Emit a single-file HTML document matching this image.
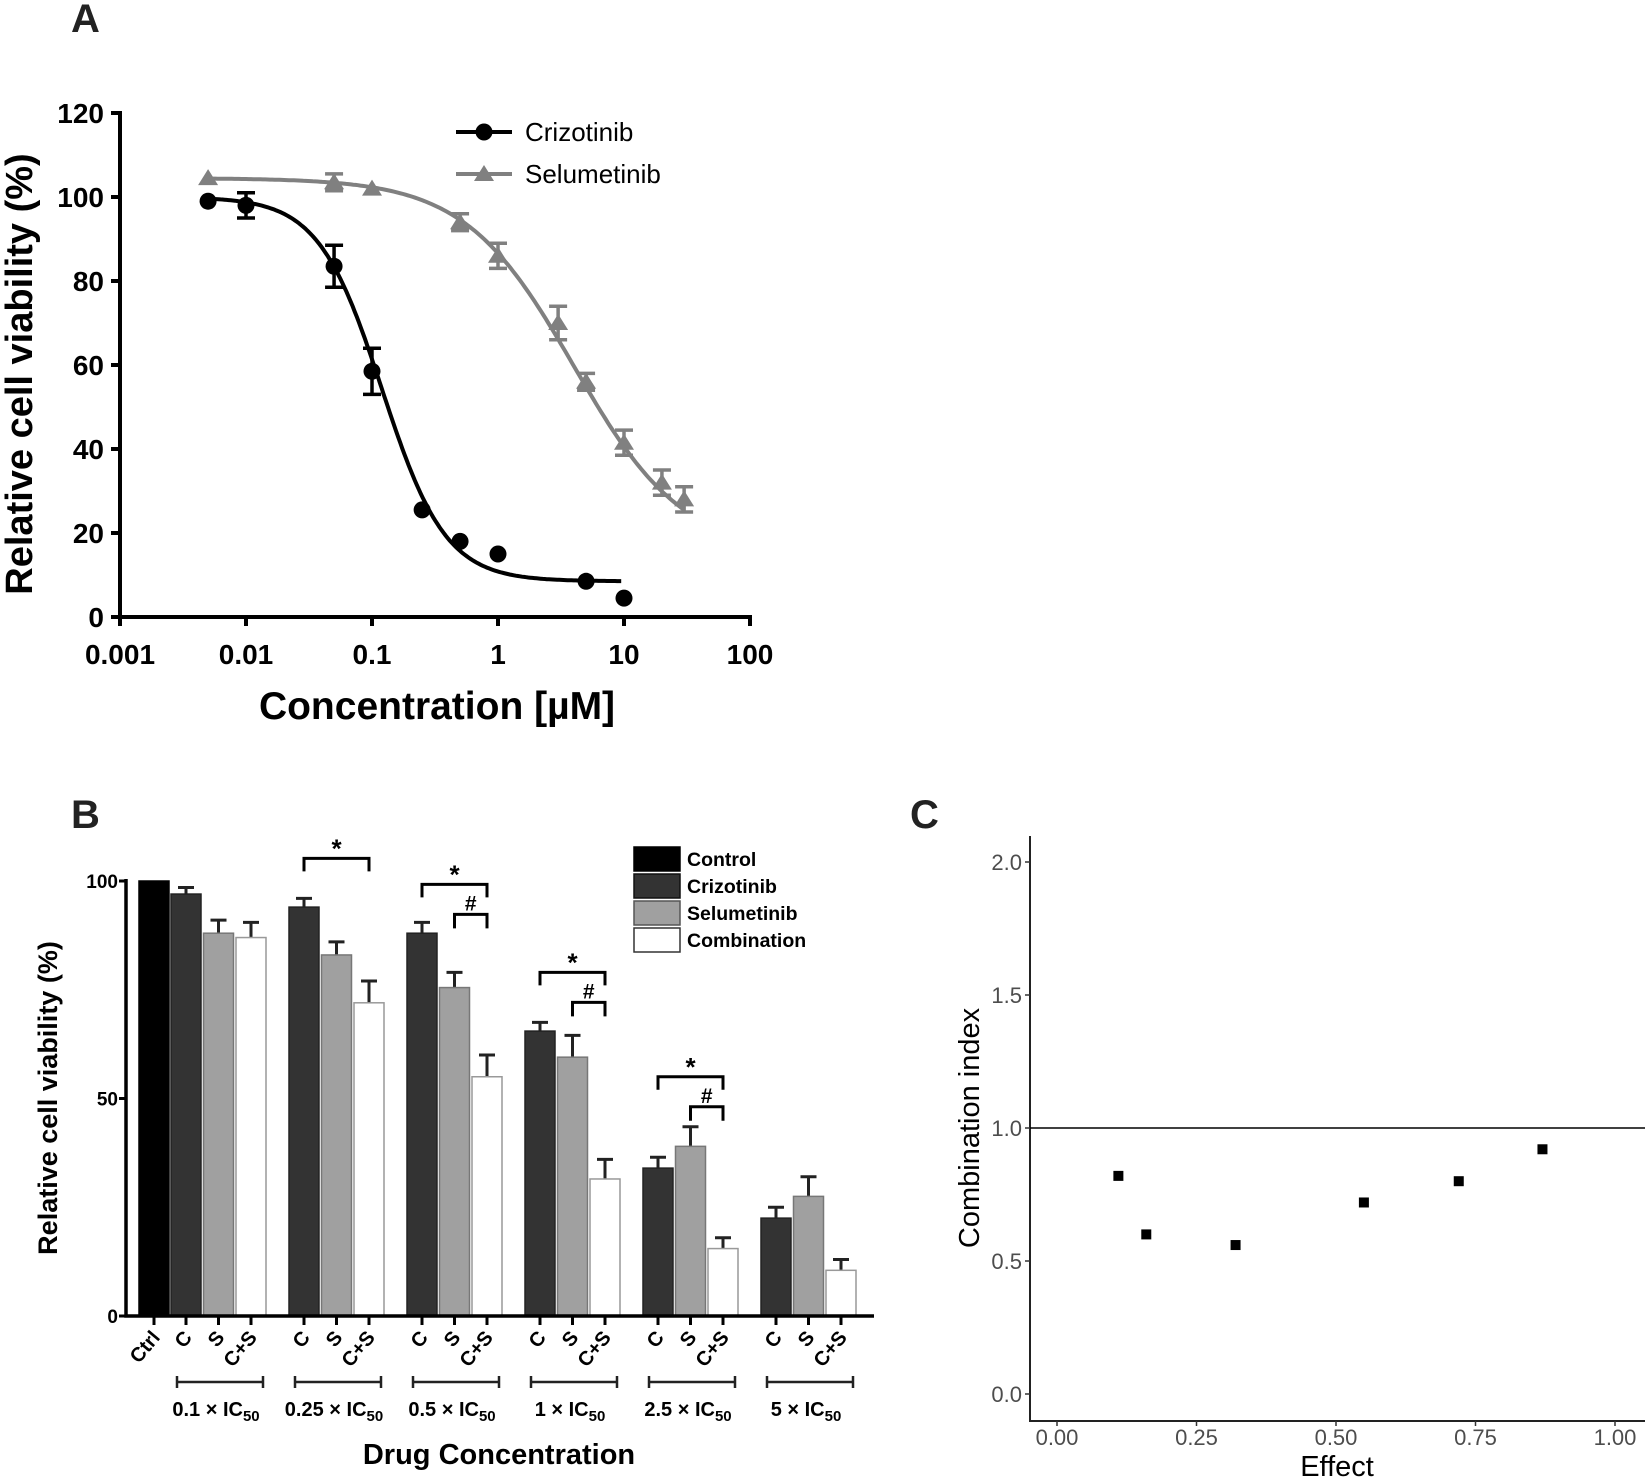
<!DOCTYPE html>
<html><head><meta charset="utf-8"><style>
html,body{margin:0;padding:0;background:#fff}
svg{display:block;font-family:"Liberation Sans",Arial,sans-serif}
</style></head><body>
<svg id="fig" width="1645" height="1478" viewBox="0 0 1645 1478" xmlns="http://www.w3.org/2000/svg">
<g id="pa"></g>
<g id="pb"></g>
<g id="pc"></g>
</svg>
<script>
// ---------- Panel A data ----------
const crizoX = [0.005, 0.01, 0.05, 0.1, 0.25, 0.5, 1, 5, 10];
const crizoY = [99, 98, 83.5, 58.5, 25.5, 18, 15, 8.5, 4.5];
const crizoErr = [0, 3, 5, 5.5, 0, 0, 0, 0, 0];
const crizoFit = [100, 8.5, 0.12, 1.72]; // top, bottom, IC50, hill
const selumX = [0.005, 0.05, 0.1, 0.5, 1, 3, 5, 10, 20, 30];
const selumY = [104.5, 103.5, 102, 94, 86, 70, 56, 41.5, 32, 28];
const selumErr = [0, 2, 0, 2, 3, 4, 2, 3, 3, 3];
const selumFit = [104.5, 15, 4, 1.0];
const aYTicks = [0, 20, 40, 60, 80, 100, 120];
const aXTicks = [0.001, 0.01, 0.1, 1, 10, 100];
const aXTickLabels = ["0.001", "0.01", "0.1", "1", "10", "100"];

// ---------- Panel B data ----------
const groupLabels = ["0.1 × IC", "0.25 × IC", "0.5 × IC", "1 × IC", "2.5 × IC", "5 × IC"];
const ctrlValue = [100];
const crizVals = [97, 94, 88, 65.5, 34, 22.5];
const crizErrs = [1.5, 2, 2.5, 2, 2.5, 2.5];
const selVals = [88, 83, 75.5, 59.5, 39, 27.5];
const selErrs = [3, 3, 3.5, 5, 4.5, 4.5];
const combVals = [87, 72, 55, 31.5, 15.5, 10.5];
const combErrs = [3.5, 5, 5, 4.5, 2.5, 2.5];
const bYTicks = [0, 50, 100];
const starGroups = [1, 2, 3, 4];
const hashGroups = [2, 3, 4];

// ---------- Panel C data ----------
const effectVals = [0.11, 0.16, 0.32, 0.55, 0.72, 0.87];
const ciVals = [0.82, 0.60, 0.56, 0.72, 0.80, 0.92];
const cYTicks = [0, 0.5, 1.0, 1.5, 2.0];
const cXTicks = [0, 0.25, 0.5, 0.75, 1.0];

const NS = "http://www.w3.org/2000/svg";
function mk(parent, tag, attrs, text) {
  const e = document.createElementNS(NS, tag);
  for (const k in attrs) e.setAttribute(k, attrs[k]);
  if (text !== undefined) e.textContent = text;
  parent.appendChild(e);
  return e;
}

// ================= PANEL A =================
(function(){
  const g = document.getElementById('pa');
  const x0 = 120, dec = 126, yb = 617, yt = 113;
  const sx = v => x0 + (Math.log10(v) + 3) * dec;
  const sy = v => yb - v / 120 * (yb - yt);
  let t = mk(g, 'text', {x: 71, y: 32, 'font-size': 40, 'font-weight': 'bold', fill: '#222'}, 'A');
  
  
  let ax = mk(g, 'path', {d: `M${x0} ${yt-2}V${yb}H${sx(100)+2}`, stroke: '#000', 'stroke-width': 4, fill: 'none'});
  
  
  aYTicks.forEach(v => {
    mk(g, 'line', {x1: x0-9, x2: x0, y1: sy(v), y2: sy(v), stroke: '#000', 'stroke-width': 4});
    const l = mk(g, 'text', {x: 104, y: sy(v)+10, 'font-size': 28, 'font-weight': 'bold', 'text-anchor': 'end'}, String(v));
    
    
  });
  aXTicks.forEach((v, i) => {
    mk(g, 'line', {x1: sx(v), x2: sx(v), y1: yb, y2: yb+9, stroke: '#000', 'stroke-width': 4});
    const l = mk(g, 'text', {x: sx(v), y: 664, 'font-size': 28, 'font-weight': 'bold', 'text-anchor': 'middle'}, aXTickLabels[i]);
    
    
  });
  t = mk(g, 'text', {x: 437, y: 719, 'font-size': 39, 'font-weight': 'bold', 'text-anchor': 'middle'}, 'Concentration [µM]');
  
  
  t = mk(g, 'text', {x: 0, y: 0, 'font-size': 38, 'font-weight': 'bold', 'text-anchor': 'middle', transform: 'translate(32,374) rotate(-90)'}, 'Relative cell viability (%)');
  
  

  function curve(p, xmin, xmax, color, name) {
    let d = '';
    for (let i = 0; i <= 200; i++) {
      const lx = Math.log10(xmin) + (Math.log10(xmax) - Math.log10(xmin)) * i / 200;
      const x = Math.pow(10, lx);
      const y = p[1] + (p[0] - p[1]) / (1 + Math.pow(x / p[2], p[3]));
      d += (i ? 'L' : 'M') + sx(x).toFixed(1) + ' ' + sy(y).toFixed(1);
    }
    const c = mk(g, 'path', {d: d, stroke: color, 'stroke-width': 4, fill: 'none'});
    
    
  }
  curve(crizoFit, 0.005, 9.5, '#000', 'crizotinib-fit-curve');
  curve(selumFit, 0.005, 30, '#808080', 'selumetinib-fit-curve');

  function err(x, y, e, color) {
    if (!e) return;
    const X = sx(x);
    mk(g, 'path', {d: `M${X} ${sy(y+e)}V${sy(y-e)}M${X-9} ${sy(y+e)}H${X+9}M${X-9} ${sy(y-e)}H${X+9}`, stroke: color, 'stroke-width': 3.5, fill: 'none'});
  }
  selumX.forEach((x, i) => {
    err(x, selumY[i], selumErr[i], '#808080');
    const X = sx(x), Y = sy(selumY[i]);
    const p = mk(g, 'path', {d: `M${X} ${Y-9}L${X+10} ${Y+7}L${X-10} ${Y+7}Z`, fill: '#808080'});
    
    
  });
  crizoX.forEach((x, i) => {
    err(x, crizoY[i], crizoErr[i], '#000');
    const p = mk(g, 'circle', {cx: sx(x), cy: sy(crizoY[i]), r: 8.5, fill: '#000'});
    
    
  });
  // legend
  mk(g, 'line', {x1: 456, x2: 512, y1: 132, y2: 132, stroke: '#000', 'stroke-width': 4});
  mk(g, 'circle', {cx: 484, cy: 132, r: 8.5, fill: '#000'});
  t = mk(g, 'text', {x: 525, y: 141, 'font-size': 26}, 'Crizotinib');
  
  
  mk(g, 'line', {x1: 456, x2: 512, y1: 174, y2: 174, stroke: '#808080', 'stroke-width': 4});
  mk(g, 'path', {d: 'M484 165L494 181L474 181Z', fill: '#808080'});
  t = mk(g, 'text', {x: 525, y: 183, 'font-size': 26}, 'Selumetinib');
  
  
})();

// ================= PANEL B =================
(function(){
  const g = document.getElementById('pb');
  const x0 = 126, yb = 1316, y100 = 881, xr = 874;
  const sy = v => yb - v / 100 * (yb - y100);
  const bw = 30, pitch = 32.5, gp = 118, c0 = 171;
  let t = mk(g, 'text', {x: 71, y: 828, 'font-size': 40, 'font-weight': 'bold', fill: '#222'}, 'B');
  
  
  const barX = (gi, k) => c0 + gi * gp + k * pitch;
  const tickXs = [];
  function bar(x, v, e, fill, stroke, name) {
    if (e) mk(g, 'path', {d: `M${x+bw/2} ${sy(v)}V${sy(v+e)}M${x+bw/2-8} ${sy(v+e)}H${x+bw/2+8}`, stroke: '#222', 'stroke-width': 3, fill: 'none'});
    const r = mk(g, 'rect', {x: x, y: sy(v), width: bw, height: yb - sy(v), fill: fill, stroke: stroke, 'stroke-width': 1.5});
    
    
    tickXs.push(x + bw / 2);
  }
  bar(139, ctrlValue[0], 0, '#000', '#000', 'bar-control');
  crizVals.forEach((v, i) => {
    bar(barX(i, 0), v, crizErrs[i], '#333', '#222', 'bar-crizotinib');
    bar(barX(i, 1), selVals[i], selErrs[i], '#a0a0a0', '#777', 'bar-selumetinib');
    bar(barX(i, 2), combVals[i], combErrs[i], '#fff', '#999', 'bar-combination');
  });
  const ax = mk(g, 'path', {d: `M${x0} ${y100-2}V${yb}H${xr}`, stroke: '#000', 'stroke-width': 3.5, fill: 'none'});
  
  
  bYTicks.forEach(v => {
    mk(g, 'line', {x1: x0-7, x2: x0, y1: sy(v), y2: sy(v), stroke: '#000', 'stroke-width': 3});
    const l = mk(g, 'text', {x: 118, y: sy(v)+7, 'font-size': 19, 'font-weight': 'bold', 'text-anchor': 'end'}, String(v));
    
    
  });
  const names = ['Ctrl'];
  for (let i = 0; i < 6; i++) names.push('C', 'S', 'C+S');
  tickXs.forEach((x, i) => {
    mk(g, 'line', {x1: x, x2: x, y1: yb, y2: yb+9, stroke: '#000', 'stroke-width': 3});
    const l = mk(g, 'text', {x: 0, y: 0, 'font-size': 20, 'font-weight': 'bold', 'text-anchor': 'end', transform: `translate(${x+7},${yb+22}) rotate(-50)`}, names[i]);
    
    
  });
  groupLabels.forEach((lab, i) => {
    const a = barX(i, 0) + 6, b = barX(i, 2) + bw - 3;
    mk(g, 'path', {d: `M${a} ${1376}V${1388}M${a} 1382H${b}M${b} 1376V1388`, stroke: '#222', 'stroke-width': 2.5, fill: 'none'});
    const l = mk(g, 'text', {x: (a+b)/2 - 4, y: 1416, 'font-size': 20, 'font-weight': 'bold', 'text-anchor': 'middle'});
    
    
    l.textContent = lab;
    mk(l, 'tspan', {'font-size': 15, dy: 5}, '50');
  });
  t = mk(g, 'text', {x: 499, y: 1464, 'font-size': 29, 'font-weight': 'bold', 'text-anchor': 'middle'}, 'Drug Concentration');
  
  
  t = mk(g, 'text', {x: 0, y: 0, 'font-size': 27, 'font-weight': 'bold', 'text-anchor': 'middle', transform: 'translate(57,1098) rotate(-90)'}, 'Relative cell viability (%)');
  
  
  starGroups.forEach(gi => {
    const a = barX(gi, 0) + bw/2, b = barX(gi, 2) + bw/2;
    const top = Math.max(crizVals[gi] + crizErrs[gi], selVals[gi] + selErrs[gi], combVals[gi] + combErrs[gi]);
    const yy = sy(top) - (gi === 1 ? 40 : (gi === 2 ? 38 : 50));
    const hasHash = hashGroups.indexOf(gi) >= 0;
    mk(g, 'path', {d: `M${a} ${yy+13}V${yy}H${b}V${yy+13}`, stroke: '#000', 'stroke-width': 3, fill: 'none'});
    const s = mk(g, 'text', {x: (a+b)/2, y: yy-1, 'font-size': 26, 'font-weight': 'bold', 'text-anchor': 'middle'}, '*');
    
    
    if (hasHash) {
      const a2 = barX(gi, 1) + bw/2, y2 = yy + 30;
      mk(g, 'path', {d: `M${a2} ${y2+14}V${y2}H${b}V${y2+14}`, stroke: '#000', 'stroke-width': 3, fill: 'none'});
      const h = mk(g, 'text', {x: (a2+b)/2, y: y2-4, 'font-size': 21, 'font-weight': 'bold', 'text-anchor': 'middle'}, '#');
      
      
    }
  });
  const leg = [['Control', '#000', '#000'], ['Crizotinib', '#333', '#111'], ['Selumetinib', '#a0a0a0', '#555'], ['Combination', '#fff', '#333']];
  leg.forEach((L, i) => {
    const y = 847 + i * 27;
    mk(g, 'rect', {x: 634, y: y, width: 46, height: 24, fill: L[1], stroke: L[2], 'stroke-width': 1.5});
    const l = mk(g, 'text', {x: 687, y: y + 19, 'font-size': 19.5, 'font-weight': 'bold'}, L[0]);
    
    
  });
})();

// ================= PANEL C =================
(function(){
  const g = document.getElementById('pc');
  const ax0 = 1030, axTop = 836, axB = 1421, yz = 1394, yt2 = 862, xz = 1057, x1 = 1615;
  const sy = v => yz - v / 2 * (yz - yt2);
  const sx = v => xz + v * (x1 - xz);
  let t = mk(g, 'text', {x: 910, y: 828, 'font-size': 40, 'font-weight': 'bold', fill: '#222'}, 'C');
  
  
  const ax = mk(g, 'path', {d: `M${ax0} ${axTop}V${axB}H1645`, stroke: '#222', 'stroke-width': 2, fill: 'none'});
  
  
  cYTicks.forEach(v => {
    mk(g, 'line', {x1: ax0-5, x2: ax0, y1: sy(v), y2: sy(v), stroke: '#333', 'stroke-width': 1.5});
    const l = mk(g, 'text', {x: ax0-8, y: sy(v)+8, 'font-size': 22, fill: '#4d4d4d', 'text-anchor': 'end'}, v.toFixed(1));
    
    
  });
  cXTicks.forEach(v => {
    mk(g, 'line', {x1: sx(v), x2: sx(v), y1: axB, y2: axB+5, stroke: '#333', 'stroke-width': 1.5});
    const l = mk(g, 'text', {x: sx(v), y: 1445, 'font-size': 22, fill: '#4d4d4d', 'text-anchor': 'middle'}, v.toFixed(2));
    
    
  });
  const ref = mk(g, 'line', {x1: ax0, x2: 1645, y1: sy(1), y2: sy(1), stroke: '#000', 'stroke-width': 1.5});
  
  
  effectVals.forEach((e, i) => {
    const p = mk(g, 'rect', {x: sx(e)-5, y: sy(ciVals[i])-5, width: 10, height: 10, fill: '#000'});
    
    
  });
  t = mk(g, 'text', {x: 1337, y: 1476, 'font-size': 29, 'text-anchor': 'middle'}, 'Effect');
  
  
  t = mk(g, 'text', {x: 0, y: 0, 'font-size': 29, 'text-anchor': 'middle', transform: 'translate(979,1128) rotate(-90)'}, 'Combination index');
  
  
})();
</script>
</body></html>
